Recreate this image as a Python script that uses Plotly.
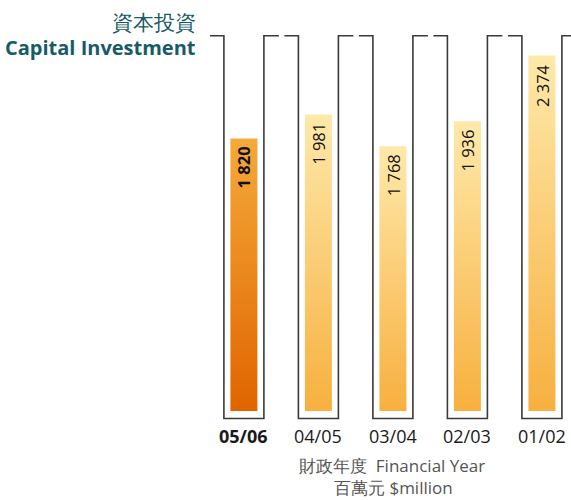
import plotly.graph_objects as go

# ---- data ----
years = ["05/06", "04/05", "03/04", "02/03", "01/02"]
values = [1820, 1981, 1768, 1936, 2374]
value_labels = ["1 820", "1 981", "1 768", "1 936", "2 374"]
title_zh = "資本投資"
title_en = "Capital Investment"
xaxis_title = "財政年度  Financial Year"
unit_title = "百萬元 $million"

# ---- style ----
W, H = 571, 500
PX_PER_CAT = 74.5
X0_PX = 243.9
BASE_PX = 411.0
PX_PER_UNIT = 0.1497
BAR_HALF = 13.5 / PX_PER_CAT
TUBE_HALF = 20.0 / PX_PER_CAT
TUBE_TOP = (BASE_PX - 35.7) / PX_PER_UNIT
TUBE_BOTTOM = (BASE_PX - 418.5) / PX_PER_UNIT
CONN_LEN = 15.0 / PX_PER_CAT
FONT = "Open Sans"
TEAL = "#175b67"

xr = [-X0_PX / PX_PER_CAT, (W - X0_PX) / PX_PER_CAT]
yr = [-(H - BASE_PX) / PX_PER_UNIT, BASE_PX / PX_PER_UNIT]

fig = go.Figure()

# serpentine outline ("tubes")
n = len(years)
ox, oy = [], []
ox += [0 - TUBE_HALF - 14 / PX_PER_CAT, 0 - TUBE_HALF]
oy += [TUBE_TOP, TUBE_TOP]
for i in range(n):
    l, r = i - TUBE_HALF, i + TUBE_HALF
    if i > 0:
        ox += [None, l - 14 / PX_PER_CAT, l]
        oy += [None, TUBE_TOP, TUBE_TOP]
    ox += [l, l, r, r, r + CONN_LEN]
    oy += [TUBE_TOP, TUBE_BOTTOM, TUBE_BOTTOM, TUBE_TOP, TUBE_TOP]
fig.add_trace(go.Scatter(x=ox, y=oy, mode="lines",
                         line=dict(color="#3a3a3a", width=1.6),
                         hoverinfo="skip", showlegend=False))

# gradient bars
for i, (yr_lbl, v) in enumerate(zip(years, values)):
    if i == 0:
        cs = [[0, "#e06400"], [1, "#f5aa3a"]]
    else:
        cs = [[0, "#f7b03f"], [1, "#fee9aa"]]
    fig.add_trace(go.Scatter(
        x=[i - BAR_HALF, i + BAR_HALF, i + BAR_HALF, i - BAR_HALF, i - BAR_HALF],
        y=[0, 0, v, v, 0],
        mode="lines", fill="toself", line=dict(width=0),
        fillgradient=dict(type="vertical", colorscale=cs),
        name=yr_lbl, hoverinfo="skip", showlegend=False))
    txt = value_labels[i]
    if i == 0:
        txt = "<b>" + txt + "</b>"
    fig.add_annotation(x=i, y=v, xref="x", yref="y", text=txt, textangle=-90,
                       showarrow=False, xanchor="center", yanchor="top", yshift=-6,
                       font=dict(family=FONT, size=16.5, color="#111111"))
    lbl = "<b>" + yr_lbl + "</b>" if i == 0 else yr_lbl
    fig.add_annotation(x=i, y=1 - 436 / H, xref="x", yref="paper", text=lbl,
                       showarrow=False, xanchor="center", yanchor="middle",
                       font=dict(family=FONT, size=18, color="#1a1a1a"))

fig.add_annotation(x=392 / W, y=1 - 465.5 / H, xref="paper", yref="paper",
                   text=xaxis_title, showarrow=False, xanchor="center", yanchor="middle",
                   font=dict(family=FONT, size=17, color="#555555"))
fig.add_annotation(x=393 / W, y=1 - 487.5 / H, xref="paper", yref="paper",
                   text=unit_title, showarrow=False, xanchor="center", yanchor="middle",
                   font=dict(family=FONT, size=17, color="#555555"))
fig.add_annotation(x=198 / W, y=1 - 22 / H, xref="paper", yref="paper",
                   text=title_zh, showarrow=False, xanchor="right", yanchor="middle",
                   font=dict(family=FONT, size=21, color=TEAL))
fig.add_annotation(x=198 / W, y=1 - 48 / H, xref="paper", yref="paper",
                   text="<b>" + title_en + "</b>", showarrow=False, xanchor="right",
                   yanchor="middle", font=dict(family=FONT, size=20, color=TEAL))

fig.update_layout(
    width=W, height=H, margin=dict(l=0, r=0, t=0, b=0),
    paper_bgcolor="white", plot_bgcolor="white",
    xaxis=dict(range=xr, visible=False, fixedrange=True),
    yaxis=dict(range=yr, visible=False, fixedrange=True),
    showlegend=False,
)
fig.write_html("out.html")
